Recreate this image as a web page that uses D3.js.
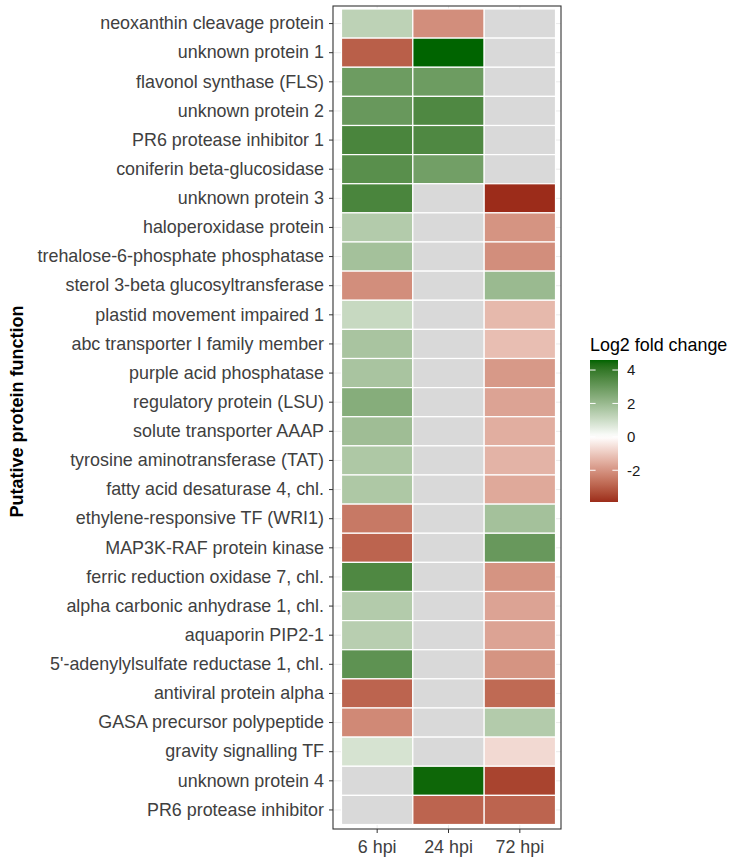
<!DOCTYPE html>
<html>
<head>
<meta charset="utf-8">
<script src="https://cdn.jsdelivr.net/npm/d3@7"></script>
<style>
  html, body { margin: 0; padding: 0; background: #ffffff; }
  svg { display: block; font-family: "Liberation Sans", Arial, sans-serif; }
</style>
</head>
<body>
<svg id="chart" width="733" height="862"></svg>
<script>
// ---- data ----
const proteins = [
  "neoxanthin cleavage protein",
  "unknown protein 1",
  "flavonol synthase (FLS)",
  "unknown protein 2",
  "PR6 protease inhibitor 1",
  "coniferin beta-glucosidase",
  "unknown protein 3",
  "haloperoxidase protein",
  "trehalose-6-phosphate phosphatase",
  "sterol 3-beta glucosyltransferase",
  "plastid movement impaired 1",
  "abc transporter I family member",
  "purple acid phosphatase",
  "regulatory protein (LSU)",
  "solute transporter AAAP",
  "tyrosine aminotransferase (TAT)",
  "fatty acid desaturase 4, chl.",
  "ethylene-responsive TF (WRI1)",
  "MAP3K-RAF protein kinase",
  "ferric reduction oxidase 7, chl.",
  "alpha carbonic anhydrase 1, chl.",
  "aquaporin PIP2-1",
  "5'-adenylylsulfate reductase 1, chl.",
  "antiviral protein alpha",
  "GASA precursor polypeptide",
  "gravity signalling TF",
  "unknown protein 4",
  "PR6 protease inhibitor"
];
const timepoints = ["6 hpi", "24 hpi", "72 hpi"];
// log2 fold change per time point (null = not significant / NA)
const lfc6 = [1.3, -3.0, 2.9, 3.0, 3.6, 3.3, 3.6, 1.5, 1.8, -2.1, 1.1, 1.7, 1.7, 2.4, 1.9, 1.6, 1.6,
              -2.5, -2.9, 3.5, 1.5, 1.4, 3.2, -2.9, -2.2, 0.8, null, null];
const lfc24 = [-2.1, 4.6, 2.9, 3.5, 3.5, 2.8, null, null, null, null, null, null, null, null, null, null, null,
               null, null, null, null, null, null, null, null, null, 4.5, -2.9];
const lfc72 = [null, null, null, null, null, null, -3.9, -2.0, -2.1, 2.0, -1.3, -1.2, -1.9, -1.7, -1.5, -1.4, -1.6,
               1.8, 3.0, -2.0, -1.7, -1.7, -2.0, -2.8, 1.5, -0.7, -3.5, -2.9];
const legendTicks = [4, 2, 0, -2];
const legendLimits = [-3.9, 4.6];
const legendTitle = "Log2 fold change";
const yTitle = "Putative protein function";

const series = [lfc6, lfc24, lfc72];
const cells = [];
proteins.forEach((p, i) => {
  timepoints.forEach((t, j) => cells.push({ protein: p, time: t, value: series[j][i] }));
});

// ---- layout ----
const svg = d3.select("#chart");
const panel = { x0: 333, x1: 561, y0: 6, y1: 829 };

const x = d3.scaleBand().domain(timepoints).range([341.5, 555.5]);
const y = d3.scaleBand().domain(proteins).range([9, 824.5]);

const color = d3.scaleLinear()
  .domain([legendLimits[0], 0, legendLimits[1]])
  .range(["#9c2c1a", "#ffffff", "#006400"])
  .interpolate(d3.interpolateLab)
  .clamp(true);
const naColor = "#d9d9d9";

// panel background + grid
svg.append("rect")
  .attr("x", panel.x0).attr("y", panel.y0)
  .attr("width", panel.x1 - panel.x0).attr("height", panel.y1 - panel.y0)
  .attr("fill", "#ffffff");
const grid = svg.append("g");
grid.selectAll("line.h").data(proteins).join("line")
  .attr("x1", panel.x0).attr("x2", panel.x1)
  .attr("y1", d => y(d) + y.bandwidth() / 2).attr("y2", d => y(d) + y.bandwidth() / 2)
  .attr("stroke", "#ebebeb").attr("stroke-width", 1);
grid.selectAll("line.v").data(timepoints).join("line")
  .attr("y1", panel.y0).attr("y2", panel.y1)
  .attr("x1", d => x(d) + x.bandwidth() / 2).attr("x2", d => x(d) + x.bandwidth() / 2)
  .attr("stroke", "#ebebeb").attr("stroke-width", 1);

// tiles
svg.append("g").selectAll("rect").data(cells).join("rect")
  .attr("x", d => x(d.time))
  .attr("y", d => y(d.protein))
  .attr("width", x.bandwidth())
  .attr("height", y.bandwidth())
  .attr("fill", d => d.value == null ? naColor : color(d.value))
  .attr("stroke", "#ffffff")
  .attr("stroke-width", 1.2);

// panel border
svg.append("rect")
  .attr("x", panel.x0).attr("y", panel.y0)
  .attr("width", panel.x1 - panel.x0).attr("height", panel.y1 - panel.y0)
  .attr("fill", "none").attr("stroke", "#333333").attr("stroke-width", 1.1);

// y axis
const yAxis = svg.append("g")
  .attr("transform", `translate(${panel.x0},0)`)
  .call(d3.axisLeft(y).tickSize(4).tickPadding(5));
yAxis.select(".domain").remove();
yAxis.selectAll(".tick line").attr("stroke", "#333333");
yAxis.selectAll(".tick text")
  .attr("fill", "#404040")
  .style("font-size", "17.9px")
  .style("font-family", "'Liberation Sans', Arial, sans-serif");

// x axis
const xAxis = svg.append("g")
  .attr("transform", `translate(0,${panel.y1})`)
  .call(d3.axisBottom(x).tickSize(4).tickPadding(7));
xAxis.select(".domain").remove();
xAxis.selectAll(".tick line").attr("stroke", "#333333");
xAxis.selectAll(".tick text")
  .attr("fill", "#404040")
  .style("font-size", "17.9px")
  .style("font-family", "'Liberation Sans', Arial, sans-serif");

// y title
svg.append("text")
  .attr("transform", `translate(23,${(panel.y0 + panel.y1) / 2 - 6}) rotate(-90)`)
  .attr("text-anchor", "middle")
  .attr("fill", "#000000")
  .style("font-size", "18px")
  .style("font-weight", "bold")
  .text(yTitle);

// legend
const leg = { x: 590, y0: 360, y1: 502, w: 28 };
const ly = d3.scaleLinear().domain(legendLimits).range([leg.y1, leg.y0]);
svg.append("text")
  .attr("x", leg.x).attr("y", 350.5)
  .attr("fill", "#000000")
  .style("font-size", "17.9px")
  .text(legendTitle);

const defs = svg.append("defs");
const grad = defs.append("linearGradient").attr("id", "lfcgrad")
  .attr("x1", 0).attr("x2", 0).attr("y1", 1).attr("y2", 0);
const stops = d3.range(0, 41).map(i => legendLimits[0] + (legendLimits[1] - legendLimits[0]) * i / 40);
grad.selectAll("stop").data(stops).join("stop")
  .attr("offset", d => (d - legendLimits[0]) / (legendLimits[1] - legendLimits[0]))
  .attr("stop-color", d => color(d));
svg.append("rect")
  .attr("x", leg.x).attr("y", leg.y0)
  .attr("width", leg.w).attr("height", leg.y1 - leg.y0)
  .attr("fill", "url(#lfcgrad)");
const lt = svg.append("g");
lt.selectAll("line.l").data(legendTicks).join("line")
  .attr("x1", leg.x).attr("x2", leg.x + 5.6)
  .attr("y1", d => ly(d)).attr("y2", d => ly(d))
  .attr("stroke", "#ffffff").attr("stroke-width", 1);
lt.selectAll("line.r").data(legendTicks).join("line")
  .attr("x1", leg.x + leg.w - 5.6).attr("x2", leg.x + leg.w)
  .attr("y1", d => ly(d)).attr("y2", d => ly(d))
  .attr("stroke", "#ffffff").attr("stroke-width", 1);
lt.selectAll("text").data(legendTicks).join("text")
  .attr("x", leg.x + leg.w + 9)
  .attr("y", d => ly(d))
  .attr("dy", "0.35em")
  .attr("fill", "#1a1a1a")
  .style("font-size", "15px")
  .text(d => d);
</script>
</body>
</html>
